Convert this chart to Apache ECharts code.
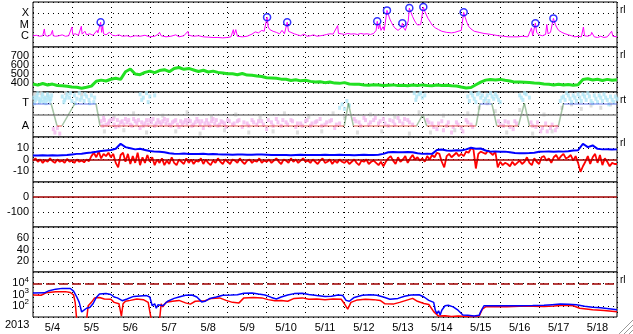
<!DOCTYPE html>
<html><head><meta charset="utf-8">
<script src="https://cdn.jsdelivr.net/npm/echarts@6/dist/echarts.min.js"></script>
<style>html,body{margin:0;padding:0;background:#fff}#c{width:633px;height:334px}</style>
</head><body><div id="c"></div>
<script>
// ---------- data ----------
const yearLabel = '2013';
const dayLabels = ['5/4','5/5','5/6','5/7','5/8','5/9','5/10','5/11','5/12','5/13','5/14','5/15','5/16','5/17','5/18'];
const hoursTotal = 360; // 15 days in hours

// X-ray flux [hour, W/m2]
const xray = [[0,1.0e-6],[2,1.1e-6],[4,9e-7],[6,1.0e-6],[7,4e-6],[7.5,1.1e-6],[9,9e-7],[11,1.2e-6],[12,3e-6],[12.5,1e-6],[14,9e-7],[16,1.0e-6],[18,1.2e-6],[20,9e-7],[22,1.0e-6],[24,6e-6],[24.5,1.3e-6],[26,1.5e-6],[28,1.1e-6],[29.8,7e-6],[30.3,1.4e-6],[32,2.5e-6],[33,1.2e-6],[35,1.5e-6],[37,1.1e-6],[39.5,3e-6],[40,1.8e-6],[41.7,1.6e-5],[42.3,2e-6],[43,7e-6],[43.5,1.5e-6],[45,1.2e-6],[47,2e-6],[49,1.1e-6],[51,1.0e-6],[53,1.2e-6],[55,9e-7],[58,1.0e-6],[60,8e-7],[63,1.0e-6],[66,9e-7],[69,1.1e-6],[72,8e-7],[75,9e-7],[77,1.3e-6],[78,2e-6],[79,1e-6],[82,8e-7],[85,9e-7],[88,1.2e-6],[90,8e-7],[93,1.0e-6],[95.5,2.5e-6],[96,1.1e-6],[99,9e-7],[102,1.0e-6],[105,8e-7],[108,7.5e-7],[111,7e-7],[114,7e-7],[117,6.5e-7],[120,7e-7],[122,8e-7],[123.5,3.5e-6],[124,1.2e-6],[125,3.5e-6],[126,9e-7],[129,8e-7],[132,9e-7],[135,1.4e-6],[137,2.2e-6],[139,1.8e-6],[141,3e-6],[142.5,2.5e-6],[144.3,4.4e-5],[145,6e-6],[146,3.5e-6],[148,2.5e-6],[150,2e-6],[152,1.5e-6],[153.5,3e-6],[155,1.5e-6],[156.7,1.6e-5],[157.5,2.5e-6],[159,2e-6],[161,1.5e-6],[163,1.2e-6],[165,1e-6],[167,1.4e-6],[169,9e-7],[171,1e-6],[173,1.2e-6],[175,9e-7],[177,1e-6],[179,1.1e-6],
[181,1.3e-6],[183,1.5e-6],[185,1.4e-6],[187.8,8e-6],[188.3,1.6e-6],[190,1.5e-6],[192,1.3e-6],[194,1.6e-6],[196,1.4e-6],[198,1.5e-6],[200,1.3e-6],[202,1.6e-6],[204,1.4e-6],[206,1.5e-6],[208,1.3e-6],[210,1.6e-6],[211.5,3e-6],[212.2,1.9e-5],[213,4e-6],[213.8,1e-5],[214.5,3e-6],[215.8,6.3e-6],[216.5,3e-6],[217.5,4e-6],[218.2,1.8e-4],[219,8e-5],[220,3e-5],[221,1.5e-5],[222,8e-6],[223,5e-6],[224,4e-6],[225,3e-6],[226,3.5e-6],[227,5e-6],[227.7,1.3e-5],[228.5,5e-6],[229.5,3e-6],[230.5,3e-6],[231.3,2e-5],[232,2.9e-4],[233,1.2e-4],[234,5e-5],[235,2.5e-5],[236,1.4e-5],[237,9e-6],[238,6e-6],[239,1e-5],[239.8,8e-6],[240.6,3.6e-4],[241.5,1.5e-4],[242.5,7e-5],[243.5,3.5e-5],[245,1.6e-5],[246,9e-6],[248,5e-6],[250,3.5e-6],[252,2.5e-6],[255,2e-6],[258,1.8e-6],[260,2e-6],[262,2.5e-6],[264,3e-6],[265.5,1.2e-4],[266.5,4e-5],[267.5,1.5e-5],[268.5,7e-6],[270,4e-6],[272,2.5e-6],[275,2e-6],[278,1.6e-6],[281,1.4e-6],[284,1.2e-6],[287,1.0e-6],[290,9e-7],[293,8e-7],[296,8e-7],[299,8e-7],[302,9e-7],[305,8e-7],[307.3,5e-6],[308,1e-6],[309.7,1.3e-5],[310.5,2e-6],[312,1.2e-6],[314,1e-6],[316,1.3e-6],[316.7,1e-5],[317.5,1.5e-6],[319,2e-6],[320.8,3.5e-5],[322,1e-5],[323,5e-6],[324,3e-6],[326,2e-6],[328,1.5e-6],[330,1.2e-6],[332,1.0e-6],[334,8e-7],[336,9e-7],[338,8e-7],[339.3,6e-6],[340,1e-6],[342,9e-7],[344,1.2e-6],[344.4,2e-6],[346,8e-7],[348,7e-7],[350,9e-7],[352,7e-7],[354,8e-7],[356.7,2.5e-6],[357.5,9e-7],[360,8e-7]];

// flare peaks [hour, W/m2]
const flares = [[41.7,1.6e-5],[144.3,4.4e-5],[156.7,1.6e-5],[212.2,1.9e-5],[218.2,1.8e-4],[227.7,1.3e-5],[232,2.9e-4],[240.6,3.6e-4],[265.5,1.2e-4],[309.7,1.3e-5],[320.8,3.5e-5]];

// solar wind speed, every 3 hours (km/s)
const speedStep = 3;
const speed = [388,376,394,378,388,372,370, 365,356,352,342,352, 365,420,432,422, 442,452,440, 525,555, 500,492,518, 532,515,538,548,526, 562,572,552,562, 545,528,542,522,532,518, 512,502,502,492,506,488,486,478, 472,458,456, 452,443,441,428,436, 424,431,418,411,414,404, 411,399,396,404,389,386, 386,379,376,381,377,371,376, 379,371,376,369,377,371,379,373,370,377,371,376,369,367, 355,345,350, 380,410,432,440,433,440,430, 422,410,410,408,406,399, 396,389,386,379,386,377,383,374,381, 440,447,433,442,428,440,430,436];

// IMF sector polarity (1 = T, -1 = A)
const polT = [0,11.1,14.8,17.9,25.9,38.8,41.3,191.9,194.4,197.5,236.5,240.3,242.7,273.1,275.6,282.8,285.9,299.2,302.9,306,323.9,327,360];
const polV = [1,1,-1,-1,1,1,-1,-1,1,-1,-1,0,-1,-1,1,1,-1,-1,1,-1,-1,1,1];
// IMF angle samples
const towardPts = [[0.5,1.5],[1.5,1.3],[2.5,1.7],[3.5,1.4],[4.5,1.2],[5.5,1.6],[6.5,1.1],[7.5,1.5],[8.5,1.3],[9.5,1.6],[10.5,1.2],[11,1.4],[18,1.6],[19.5,1.3],[21,1.8],[22.5,1.5],[24,1.2],[25.5,1.7],[27,1.4],[28.5,1.9],[30,1.5],[31.5,1.2],[33,1.6],[34.5,1.3],[36,1.7],[37.5,1.1],[66,1.8],[68,1.5],[70,1.9],[72,1.6],[75,1.7],[189,0.6],[190.5,0.9],[192,0.5],[193.5,1.2],[195,0.8],[235,1.9],[236.5,1.6],[238,1.8],[240,1.5],[241.5,1.7],[268,1.6],[270,1.9],[272,1.4],[274,1.8],[276,1.5],[278,1.2],[280,1.7],[282,1.9],[284,1.4],[286,1.6],[288,1.1],[300,1.7],[302,1.3],[304,1.8],[306,1.5],[325,1.2],[327,1.6],[329,1.9],[331,1.4],[333,1.7],[335,1.2],[337,1.5],[339,1.8],[341,1.3],[343,1.6],[345,1.0],[347,1.4],[349,1.7],[351,1.2],[353,1.5],[355,0.9],[357,1.3],[359,1.6],
[1,1.0],[2,1.5],[3,1.9],[4,1.1],[5,1.3],[6,1.8],[7,1.4],[8,1.0],[9,1.8],[10,1.4],[11.5,1.7],[19,1.1],[20.5,1.5],[23,1.9],[26,1.0],[29,1.3],[32,1.8],[35,1.0],[38,1.5],[67,1.3],[71,1.1],[236,1.3],[239,1.9],[269,1.2],[271,1.7],[273,1.1],[275,1.9],[277,1.7],[279,1.4],[281,1.2],[283,1.6],[285,1.8],[287,1.3],[301,1.5],[303,1.9],[326,1.5],[328,1.3],[330,1.7],[332,1.1],[334,1.5],[336,1.8],[338,1.2],[340,1.6],[342,1.9],[344,1.2],[346,1.7],[348,1.1],[350,1.5],[352,1.8],[354,1.3],[356,1.6],[358,1.1],[360,1.4]];
const awayPts = [[12.5,-1.3],[13.5,-1.6],[15,-1.2],[16.5,-1.7],[42,-0.6],[43.5,-0.3],[45,-0.9],[46.5,-0.8],[48,-0.5],[49.5,-0.4],[51,-1.1],[54,-0.7],[57,-0.4],[60,-0.9],[63,-0.6],[66,-1.2],[69,-0.8],[72,-0.5],[75,-1.0],[78,-0.7],[81,-0.4],[84,-0.9],[87,-0.6],[90,-1.1],[93,-0.7],[96,-0.5],[99,-0.9],[102,-0.6],[105,-1.2],[108,-0.8],[111,-0.4],[114,-1.0],[117,-0.7],[120,-0.5],[123,-0.9],[126,-0.6],[129,-1.1],[132,-0.8],[135,-0.5],[138,-0.9],[141,-0.6],[144,-1.3],[147,-0.7],[150,-0.4],[153,-1.0],[156,-0.7],[159,-0.5],[162,-1.1],[165,-0.8],[168,-0.6],[171,-1.0],[174,-0.7],[177,-0.4],[180,-0.9],[183,-0.6],[186,-1.2],[189,-0.8],[198,-0.4],[201,-0.7],[204,-0.3],[207,-0.9],[210,-0.5],[213,-0.8],[216,-0.4],[219,-1.0],[222,-0.6],[225,-0.3],[228,-0.8],[231,-0.5],[234,-0.9],[243,-0.5],[246,-0.8],[249,-1.3],[252,-0.6],[255,-1.0],[258,-1.6],[261,-0.7],[264,-1.2],[267,-0.5],[270,-0.9],[287,-0.6],[290,-1.0],[293,-0.7],[296,-1.3],[298,-0.8],[307,-0.7],[310,-1.1],[313,-1.5],[316,-0.8],[319,-1.2],[322,-1.4],
[43,-1.0],[44,-0.5],[47,-0.6],[50,-0.9],[52,-0.5],[53,-1.0],[55,-0.6],[56,-0.9],[58,-0.7],[59,-0.5],[61,-1.0],[62,-0.4],[64,-0.8],[65,-0.5],[67,-0.7],[68,-1.0],[70,-0.5],[71,-0.9],[73,-0.7],[74,-0.4],[76,-0.8],[77,-0.5],[79,-0.9],[80,-0.6],[82,-0.8],[83,-0.5],[85,-1.0],[86,-0.7],[88,-0.5],[89,-0.9],[91,-0.6],[92,-0.9],[94,-0.5],[95,-0.8],[97,-0.6],[98,-1.0],[100,-0.7],[101,-0.4],[103,-0.9],[104,-0.6],[106,-0.8],[107,-0.5],[109,-1.0],[110,-0.6],[112,-0.8],[113,-0.5],[115,-0.9],[116,-0.6],[118,-0.8],[119,-1.1],[121,-0.6],[124,-0.8],[127,-0.5],[130,-0.7],[133,-1.0],[136,-0.7],[139,-0.6],[142,-0.9],[145,-0.5],[148,-1.0],[151,-0.7],[154,-0.5],[157,-0.9],[160,-0.6],[163,-0.8],[166,-1.0],[169,-0.5],[172,-0.8],[175,-0.6],[178,-1.0],[181,-0.7],[184,-0.5],[187,-0.9],[199,-0.6],[202,-1.0],[205,-0.5],[208,-0.7],[211,-0.3],[214,-0.6],[217,-0.8],[220,-0.5],[223,-0.9],[226,-0.6],[229,-0.4],[232,-0.7],[244,-0.7],[247,-1.1],[250,-0.8],[253,-1.4],[256,-0.7],[259,-1.1],[262,-0.9],[265,-1.5],[268,-0.7],[271,-1.1],[288,-0.9],[291,-0.6],[294,-1.1],[297,-0.6],[308,-1.0],[311,-0.7],[314,-1.2],[317,-1.5],[320,-0.9],[323,-1.1]];
const mixedPts = [[1,1.8],[5,1.9],[9,1.7],[20,1.9],[30,1.8],[44,-1.5],[50,-0.2],[56,-1.4],[62,0.1],[70,-1.6],[80,-0.1],[88,-1.5],[95,0.2],[103,-1.7],[110,-0.2],[118,-1.4],[125,0.0],[133,-1.6],[140,-0.3],[148,-1.5],[155,0.1],[163,-1.6],[170,-0.2],[178,-1.5],[185,0.1],[192,-0.3],[200,-1.6],[208,0.0],[215,-1.5],[223,-0.2],[232,-1.7],[238,0.2],[245,-1.6],[253,-0.1],[260,-1.4],[268,0.1],[275,0.6],[280,1.0],[285,0.3],[292,-1.6],[300,0.4],[308,-1.7],[315,0.0],[320,-1.5],[326,0.6],[332,0.9],[338,0.5],[344,0.8],[350,0.6],[356,0.9]];

// IMF Bt every 3 hours, Bz every 1.5 hours (nT)
const btStep = 3;
const bt = [3.6,3.5,3.8,3.6,3.7,3.5,3.8,4.0, 4.5,5.0,5.2,5.8,6.2, 6.8,7.5,8.0,8.5,9.5, 14.0,11.0, 10.0,9.0,9.5,8.5, 7.5,7.0,6.8,6.5, 5.5,5.2,5.0,5.3,4.8,5.0,4.9,5.1,4.7,4.8,4.6, 4.5,4.4,4.3,4.5,4.4,4.2,4.3,4.5,4.4, 4.2,4.0,3.9,4.1,4.0,3.8,4.0,4.2,4.1,3.9,4.0,4.1,4.3,4.0,3.9,4.2,4.0,4.1,3.8,4.0,4.2,4.0,4.1,4.3, 5.0,6.5,6.6,6.5,6.4,6.6,6.5, 5.5,5.0,5.2,5.0, 8.5,8.8, 8.0,7.8,8.2,8.0, 9.0,10.5,9.5,9.8, 8.0,7.0,7.2,6.8,7.0,6.5, 5.8,5.6,5.5,5.7,6.0, 6.8,7.0,7.2,6.9,7.1,7.0,7.3, 8.0,8.2, 14.0,11.0,12.5, 9.5,9.0,9.2,8.8,9.0];
const bzStep = 1.5;
const bz = [
 -1,1,-2,0,-3,-0.5,-2,1,-1.5,-3,0,-2,-1,-3,0.5,-2,
 -1,-3,0,-2,-1,-2.5,0,-1.5,3,6,2,7,1,5,3,6,
 2,5,-3,-7,4,6,-2,5,-4,3,-3,6,-5,2,-3,4,
 -2,2,-5,0,-3,1,-5,-1,-4,2,-3,-5,0,-2,-4,1,
 -3,0,-4,-1,-2,1,-4,0,-3,-5,-1,-3,1,-2,-4,0,
 -2,-4,0,-1,-3,1,-2,-4,-1,0,-3,-1,-2,1,-3,-1,
 -2,0,-3,-1,1,-2,-4,0,-1,-3,1,-2,0,-3,-1,1,
 -2,-1,-3,0,-2,-4,-1,1,-3,-2,0,-4,-1,-3,0,-2,
 -3,-1,-4,-2,0,-3,-5,-1,-2,0,-4,-2,-1,-3,-5,-2,
 -6,-2,1,3,-1,-4,2,-2,0,3,-3,1,4,0,2,-1,
 1,-2,3,0,4,2,6,5,-2,-7,3,5,2,4,6,3,
 5,3,7,6,10,9,-8,5,7,6,5,8,6,4,7,-7,
 -2,-5,-3,-4,-6,-2,-5,-3,-1,-4,-2,2,-3,-5,1,-2,
 -4,2,3,-1,1,-3,2,4,0,3,5,1,2,4,-1,3,
 -3,-11,-6,-2,3,-4,2,5,-3,4,-5,1,-2,-6,-3,-4,
 -4];

// particle flux [hour, value]
const fluxBlue = [[0,1350],[7,1400],[10,2200],[14,3000],[18,3500],[23,3400],[25,2000],[27,600],[28.5,200],[30,28],[31,35],[33,60],[35,70],[37,150],[39,550],[41,1100],[45,1200],[48,1000],[50,600],[52,500],[55,280],[58,400],[62,680],[66,750],[70,800],[72,600],[73.5,100],[75,150],[76,60],[77,120],[78,80],[80,100],[83,250],[87,450],[90,600],[94,850],[98,900],[101,600],[104,220],[106,250],[109,450],[113,600],[117,850],[122,900],[126,950],[130,1300],[135,1350],[139,1100],[143,900],[147,550],[150,400],[153,600],[157,900],[161,1200],[166,1300],[170,1000],[175,800],[180,650],[184,700],[188,900],[191,800],[193,300],[195,250],[198,550],[203,850],[208,950],[212,850],[216,600],[220,380],[225,450],[229,700],[233,900],[238,950],[241,600],[244,300],[247,200],[248,40],[249,20],[250,35],[251,15],[252,40],[254,100],[256,110],[259,80],[262,40],[265,15],[268,14],[272,12],[275,14],[276,30],[278,100],[285,100],[292,98],[300,102],[308,105],[315,110],[320,125],[325,140],[330,135],[335,120],[340,90],[345,75],[350,65],[355,55],[360,45]];
const fluxRed = [[0,900],[5,850],[8,1400],[14,1750],[20,1800],[23,1500],[25,900],[26,200],[27,5],[33,5],[34,100],[36,200],[38,500],[41,550],[44,400],[48,380],[50,200],[53,150],[54.5,12],[55.5,150],[57,250],[60,300],[64,400],[68,350],[71,200],[73,5],[78,5],[79,150],[80,80],[82,200],[86,250],[90,300],[94,180],[97,140],[100,250],[106,280],[110,450],[115,500],[119,300],[123,200],[127,180],[130,500],[136,550],[141,500],[145,350],[149,280],[153,300],[157,250],[161,450],[166,500],[170,380],[175,400],[180,350],[185,400],[190,380],[192,150],[194,50],[196,200],[200,330],[205,380],[210,350],[214,300],[217,150],[222,140],[226,200],[230,300],[234,450],[237,250],[241,160],[244,130],[247,30],[250,12],[254,13],[258,11],[262,12],[268,11],[272,11],[275,12],[277,50],[279,80],[285,85],[292,80],[300,88],[308,90],[315,85],[321,95],[327,110],[333,100],[337,60],[345,45],[352,38],[360,30]];

// axis label maps
const xrayClass = {'-6':'C','-5':'M','-4':'X'};
const sectorLabels = {'1':'T','-1':'A'};

// ---------- chart ----------
const chart = echarts.init(document.getElementById('c'), null, {renderer:'canvas'});
const FONT = 'Liberation Sans, Arial, sans-serif';
const dotted = {type:[1,4], color:'#000', width:1};
const nP = 7, top0 = 2, ph = 45;
const grids = [], xAxes = [], yAxes = [];
for (let i=0;i<nP;i++){
  grids.push({left:33,right:16,top:top0+ph*i,height:ph,show:true,borderColor:'#000',borderWidth:1,backgroundColor:'#fff'});
  xAxes.push({type:'value',gridIndex:i,min:0,max:hoursTotal,interval:24,axisLine:{show:false},axisTick:{show:false},axisLabel:{show:false},splitLine:{show:true,lineStyle:dotted}});
}
xAxes.push({type:'value',gridIndex:6,position:'bottom',min:0,max:hoursTotal,interval:12,axisLine:{show:false},axisTick:{show:false},splitLine:{show:false},
  axisLabel:{margin:5,fontSize:11,fontFamily:FONT,color:'#000',formatter:v=> (v%24===12)? dayLabels[(v-12)/24] : ''}});
const lab = (f)=>({margin:4,fontSize:11,fontFamily:FONT,color:'#000',formatter:f});
const yBase = {axisLine:{show:false},axisTick:{show:false},splitLine:{show:true,lineStyle:dotted}};
yAxes.push(Object.assign({type:'log',logBase:10,gridIndex:0,min:1e-7,max:1e-3,axisLabel:lab(v=>xrayClass[String(Math.round(Math.log10(v)))]||'')},yBase));
yAxes.push(Object.assign({type:'value',gridIndex:1,min:300,max:800,interval:100,axisLabel:lab(v=>(v>300&&v<800)?String(v):'')},yBase));
yAxes.push(Object.assign({type:'value',gridIndex:2,min:-2,max:2,interval:1,axisLabel:lab(v=>sectorLabels[String(v)]||'')},yBase));
yAxes.push(Object.assign({type:'value',gridIndex:3,min:-20,max:20,interval:10,axisLabel:lab(v=>(Math.abs(v)<20)?String(v):'')},yBase));
yAxes.push(Object.assign({type:'value',gridIndex:4,min:-200,max:100,interval:100,axisLabel:lab(v=>(v===0||v===-100)?String(v):'')},yBase));
yAxes.push(Object.assign({type:'value',gridIndex:5,min:0,max:80,interval:20,axisLabel:lab(v=>(v>0&&v<80)?String(v):'')},yBase));
yAxes.push(Object.assign({type:'log',logBase:10,gridIndex:6,min:10,max:1e5,
  axisLabel:{margin:4,fontSize:11,fontFamily:FONT,color:'#000',
    formatter:v=>{const e=Math.round(Math.log10(v));return (e>=2&&e<=4)?'10{s|'+e+'}':'';},
    rich:{s:{fontSize:8,fontFamily:FONT,color:'#000',padding:[0,0,7,0]}}}},yBase));

// polarity segments
const segs=[];
for(let k=0;k<polT.length-1;k++){
  const a=[polT[k],polV[k]], b=[polT[k+1],polV[k+1]];
  let col = '#4a8a4a';
  if(polV[k]===polV[k+1]) col = polV[k]>0 ? '#3a4ee6' : '#e02a1a';
  segs.push({coords:[a,b],lineStyle:{color:col,width:1.5}});
}
const ts = (arr,step)=>arr.map((v,i)=>[i*step,v]);
const zeroLine = (color,type)=>({silent:true,symbol:'none',label:{show:false},lineStyle:{color:color,width:1.5,type:type||'solid'},data:[{yAxis:0}]});
const ptStyle = (c)=>({type:'scatter',xAxisIndex:2,yAxisIndex:2,symbol:'rect',symbolSize:[3,4],itemStyle:{color:c},z:2});

const series = [
  {type:'line',xAxisIndex:0,yAxisIndex:0,data:xray,showSymbol:false,lineStyle:{color:'#ff00ff',width:1},z:3},
  {type:'scatter',xAxisIndex:0,yAxisIndex:0,data:flares,symbol:'circle',symbolSize:7,itemStyle:{color:'rgba(0,0,0,0)',borderColor:'#0000ff',borderWidth:1.5},z:4},
  {type:'line',xAxisIndex:1,yAxisIndex:1,data:ts(speed,speedStep),showSymbol:false,lineStyle:{color:'#22e022',width:3},z:3},
  Object.assign(ptStyle('#d4d4d4'),{data:mixedPts}),
  Object.assign(ptStyle('#b0e6f6'),{data:towardPts}),
  Object.assign(ptStyle('#f4b8ee'),{data:awayPts}),
  {type:'line',xAxisIndex:2,yAxisIndex:2,data:[],markLine:zeroLine('#808080'),z:3},
  {type:'lines',coordinateSystem:'cartesian2d',xAxisIndex:2,yAxisIndex:2,data:segs,z:4},
  {type:'line',xAxisIndex:3,yAxisIndex:3,data:[],markLine:zeroLine('#a00000'),z:2},
  {type:'line',xAxisIndex:3,yAxisIndex:3,data:ts(bz,bzStep),showSymbol:false,lineStyle:{color:'#ff0000',width:1.8},z:3},
  {type:'line',xAxisIndex:3,yAxisIndex:3,data:ts(bt,btStep),showSymbol:false,lineStyle:{color:'#0000ff',width:2},z:4},
  {type:'line',xAxisIndex:4,yAxisIndex:4,data:[],markLine:zeroLine('#a00000'),z:3},
  {type:'line',xAxisIndex:6,yAxisIndex:6,data:[],markLine:{silent:true,symbol:'none',label:{show:false},lineStyle:{color:'#a00000',width:1.5,type:[9,4]},data:[{yAxis:1e4}]},z:2},
  {type:'line',xAxisIndex:6,yAxisIndex:6,data:fluxRed,showSymbol:false,lineStyle:{color:'#ff0000',width:1.5},z:3},
  {type:'line',xAxisIndex:6,yAxisIndex:6,data:fluxBlue,showSymbol:false,lineStyle:{color:'#0000ff',width:1.5},z:4}
];

const sideTag = (txt,y)=>({type:'text',left:620,top:y,style:{text:txt,fontSize:10,fontFamily:FONT,fill:'#000'}});
chart.setOption({
  animation:false,
  backgroundColor:'#fff',
  grid:grids, xAxis:xAxes, yAxis:yAxes, series:series,
  graphic:[
    {type:'text',left:5,top:319,style:{text:yearLabel,fontSize:11,fontFamily:FONT,fill:'#000'}},
    sideTag('rl',5), sideTag('rl',50), sideTag('rt',95), sideTag('rl',138), sideTag('rl',275),
    {type:'line',shape:{x1:633,y1:320,x2:619,y2:334},style:{stroke:'#999',lineWidth:1}},
    {type:'line',shape:{x1:633,y1:325,x2:624,y2:334},style:{stroke:'#999',lineWidth:1}},
    {type:'line',shape:{x1:633,y1:330,x2:629,y2:334},style:{stroke:'#999',lineWidth:1}}
  ]
});
</script></body></html>
